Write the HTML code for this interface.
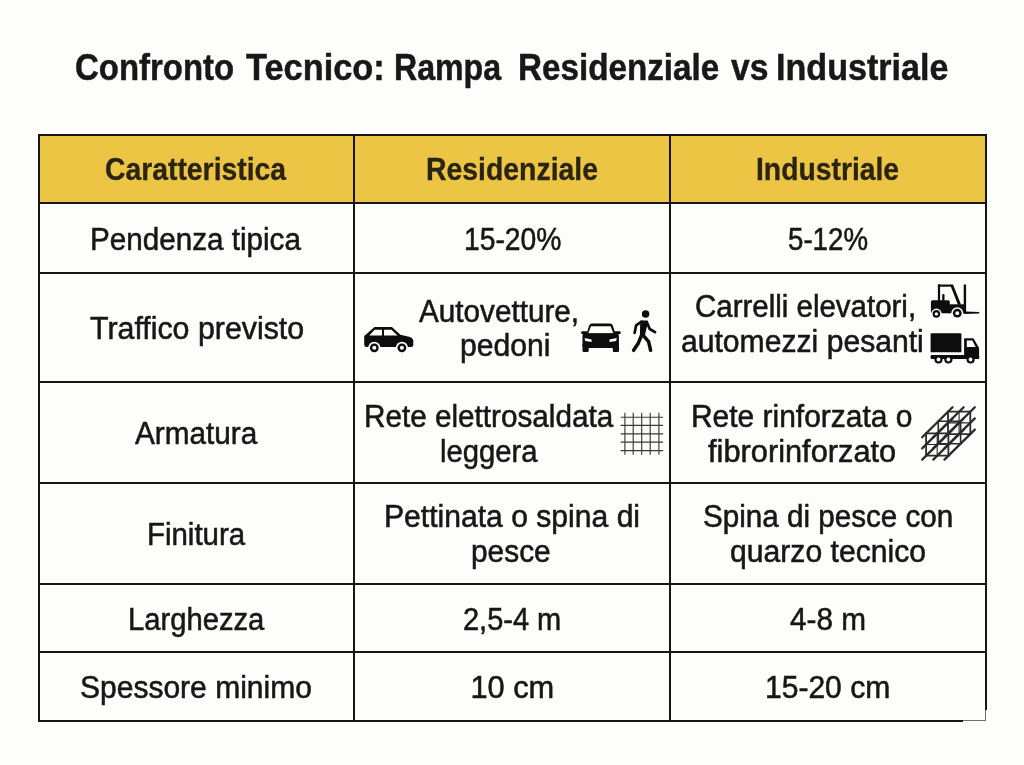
<!DOCTYPE html>
<html lang="it"><head><meta charset="utf-8"><title>Confronto Tecnico: Rampa Residenziale vs Industriale</title>
<style>
html,body{margin:0;padding:0;background:#fdfdfc;}
body{width:1024px;height:765px;overflow:hidden;position:relative;font-family:"Liberation Sans", Arial, sans-serif;color:#171717;}
h1{margin:0;position:absolute;left:0;top:0;width:1024px;height:120px;font-size:37.4px;line-height:44px;font-weight:700;color:#181818;-webkit-text-stroke:0.5px #181818;}
.t{position:absolute;white-space:nowrap;transform-origin:0 0;display:block;}
table{position:absolute;left:38px;top:134px;border-collapse:separate;border-spacing:0;border-top:2px solid #161616;border-left:2px solid #161616;table-layout:fixed;width:949px;font-size:30.8px;line-height:36px;-webkit-text-stroke:0.55px #171717;}
th,td{position:relative;padding:0;border-right:2px solid #161616;border-bottom:2px solid #161616;font-weight:400;text-align:left;vertical-align:top;overflow:visible;}
th{background:#EDC545;font-weight:700;color:#2a2413;font-size:30.5px;line-height:36px;-webkit-text-stroke:0.3px #2a2413;}
td{background:#fdfdfc;}
col.c1{width:315px}col.c2{width:316px}col.c3{width:316px}
tr.h th{height:66px}tr.r1 td{height:68px}tr.r2 td{height:107px}tr.r3 td{height:99px}tr.r4 td{height:99px}tr.r5 td{height:66px}tr.r6 td{height:67px}
.ico{position:absolute;display:block;overflow:visible;}
.fd{position:absolute;display:block;background:#fdfdfc;z-index:2}.fd.g{background:rgba(254,254,254,.38)}
</style></head>
<body>
<h1><span class="t" style="left:75.37px;top:45.00px;transform:scaleX(0.8812)">Confronto</span> <span class="t" style="left:245.60px;top:45.00px;transform:scaleX(0.9189)">Tecnico:</span> <span class="t" style="left:393.88px;top:45.00px;transform:scaleX(0.8589)">Rampa</span> <span class="t" style="left:518.22px;top:45.00px;transform:scaleX(0.8883)">Residenziale</span> <span class="t" style="left:730.60px;top:45.00px;transform:scaleX(0.9000)">vs</span> <span class="t" style="left:776.28px;top:45.00px;transform:scaleX(0.9124)">Industriale</span></h1>
<table><colgroup><col class="c1"><col class="c2"><col class="c3"></colgroup>
<thead><tr class="h"><th><span class="t" style="left:64.77px;top:15.00px;transform:scaleX(0.9287)">Caratteristica</span></th><th><span class="t" style="left:70.54px;top:15.00px;transform:scaleX(0.9308)">Residenziale</span></th><th><span class="t" style="left:85.04px;top:15.00px;transform:scaleX(0.9278)">Industriale</span></th></tr></thead>
<tbody>
<tr class="r1"><td><span class="t" style="left:50.38px;top:18.00px;transform:scaleX(0.9622)">Pendenza tipica</span></td><td><span class="t" style="left:108.67px;top:18.00px;transform:scaleX(0.9175)">15-20%</span></td><td><span class="t" style="left:117.00px;top:18.00px;transform:scaleX(0.8989)">5-12%</span></td></tr>
<tr class="r2"><td><span class="t" style="left:50.30px;top:37.00px;transform:scaleX(0.9852)">Traffico previsto</span></td><td><span class="t" style="left:64.40px;top:20.00px;transform:scaleX(0.9640)">Autovetture,</span> <span class="t" style="left:104.94px;top:54.00px;transform:scaleX(0.9787)">pedoni</span><svg class="ico" style="left:5px;top:48px" width="58" height="34" viewBox="360 322 58 34">
<path fill="#0d0d0d" d="M364.2 344.5 L364.2 336 L374.5 327 L391.9 327 L400.4 334.8 L410 336.9 Q413.3 338.2 413.3 341 L413.3 345.1 Q413.3 347 411 347 L366.3 347 Q364.2 347 364.2 344.5Z"/>
<path fill="#fdfdfc" d="M369.3 335.5 L374.6 329.7 L382 329.7 L382 335.5Z M384 329.7 L391.4 329.7 L397.6 335.5 L384 335.5Z"/>
<circle cx="374.3" cy="347.8" r="6.1" fill="#fdfdfc"/><circle cx="401.9" cy="347.8" r="6.1" fill="#fdfdfc"/>
<circle cx="374.3" cy="347.8" r="4.4" fill="#0d0d0d"/><circle cx="401.9" cy="347.8" r="4.4" fill="#0d0d0d"/>
<circle cx="374.3" cy="347.8" r="2" fill="#fdfdfc"/><circle cx="401.9" cy="347.8" r="2" fill="#fdfdfc"/></svg><svg class="ico" style="left:223px;top:46px" width="46" height="36" viewBox="578 320 46 36">
<path fill="#0d0d0d" d="M586.3 334.5 L589.2 325.6 Q589.9 323.6 592 323.6 L610 323.6 Q612.1 323.6 612.8 325.6 L615.7 334.5Z"/>
<path fill="#fdfdfc" d="M591 326.3 L610.6 326.3 L613.3 333.2 L588.3 333.2Z"/>
<rect x="581.2" y="331.3" width="6.5" height="2.8" rx="1.2" fill="#0d0d0d"/><rect x="614.2" y="331.3" width="6.5" height="2.8" rx="1.2" fill="#0d0d0d"/>
<rect x="582.5" y="333.4" width="36.4" height="14.6" rx="2.2" fill="#0d0d0d"/>
<rect x="582.5" y="343" width="6.2" height="8.9" rx="1.2" fill="#0d0d0d"/><rect x="612.8" y="343" width="6.2" height="8.9" rx="1.2" fill="#0d0d0d"/>
<path fill="#fdfdfc" d="M584.6 337.9 L591.6 339.6 L591.6 341.9 L585.3 341Z M616.8 337.9 L609.5 339.6 L609.5 341.9 L616.1 341Z"/></svg><svg class="ico" style="left:275px;top:34px" width="30" height="46" viewBox="630 308 30 46">
<circle cx="645.6" cy="314.1" r="3.75" fill="#0d0d0d"/>
<g fill="none" stroke="#0d0d0d" stroke-linecap="round" stroke-linejoin="round">
<path d="M641.6 321.8 L646.6 321.8 L643.6 335 L641.3 335Z" fill="#0d0d0d" stroke-width="2.8"/>
<path d="M641.6 321.6 L636.1 325.4 L634.6 333" stroke-width="2.7"/>
<path d="M646.9 322.2 L649.7 329 L655 332.2" stroke-width="2.7"/>
<path d="M641.5 335.5 L638.3 343.2 L633.6 350.3" stroke-width="3.5"/>
<path d="M643.2 335.3 L648.6 341.6 L650.6 350.3" stroke-width="3.5"/>
</g></svg></td><td><span class="t" style="left:23.64px;top:15.00px;transform:scaleX(0.9568)">Carrelli elevatori,</span> <span class="t" style="left:9.92px;top:50.00px;transform:scaleX(0.9780)">automezzi pesanti</span><svg class="ico" style="left:257px;top:8px" width="54" height="38" viewBox="928 282 54 38">
<g fill="#0d0d0d">
<rect x="937.9" y="284.5" width="14.4" height="2.2"/>
<rect x="937.9" y="284.5" width="2.2" height="16.5"/>
<path d="M950.2 285 L953 284.6 L961 304.6 L958 305Z"/>
<rect x="963.7" y="284.5" width="2.4" height="29.2"/>
<path d="M964.4 311.5 L979.3 312.1 L979.3 313.5 L964.4 314.1Z"/>
<rect x="930.9" y="300.2" width="18.9" height="13.1" rx="1.6"/>
<rect x="948" y="304.3" width="16.4" height="9"/>
<rect x="942.2" y="293.9" width="2.3" height="7" rx="1"/>
</g>
<circle cx="936.4" cy="313.9" r="5.3" fill="#fdfdfc"/><circle cx="957.25" cy="313.2" r="6" fill="#fdfdfc"/>
<circle cx="936.4" cy="313.9" r="3.8" fill="#0d0d0d"/><circle cx="957.25" cy="313.2" r="4.4" fill="#0d0d0d"/>
<circle cx="936.4" cy="313.9" r="1.7" fill="#fdfdfc"/><circle cx="957.25" cy="313.2" r="1.9" fill="#fdfdfc"/></svg><svg class="ico" style="left:257px;top:56px" width="54" height="36" viewBox="928 330 54 36">
<g fill="#0d0d0d">
<rect x="930.6" y="333.2" width="30.8" height="19.1" rx="0.9"/>
<rect x="930.6" y="355.1" width="48.6" height="3.8" rx="1.2"/>
<path d="M964.1 339 Q964.1 338.3 964.8 338.3 L972.8 338.3 Q973.5 338.3 973.9 339 L979.1 348 L979.1 358.8 L964.1 358.8Z"/>
</g>
<path fill="#fdfdfc" d="M966.8 340.4 L972.3 340.4 L975.7 346.9 L966.8 346.9Z"/>
<g fill="#0d0d0d"><circle cx="938.5" cy="359.5" r="4.1"/><circle cx="948.4" cy="359.5" r="4.1"/><circle cx="970.6" cy="359.5" r="4.1"/></g>
<g fill="#fdfdfc"><circle cx="938.5" cy="359.5" r="1.9"/><circle cx="948.4" cy="359.5" r="1.9"/><circle cx="970.6" cy="359.5" r="1.9"/></g></svg></td></tr>
<tr class="r3"><td><span class="t" style="left:94.80px;top:33.00px;transform:scaleX(0.9654)">Armatura</span></td><td><span class="t" style="left:8.67px;top:16.00px;transform:scaleX(0.9642)">Rete elettrosaldata</span> <span class="t" style="left:84.70px;top:51.00px;transform:scaleX(0.9495)">leggera</span><svg class="ico" style="left:263px;top:27px" width="48" height="48" viewBox="618 410 48 48"><g stroke="#3a3a3a" stroke-width="1.15" fill="none"><path d="M624.9 412.7V454.8"/><path d="M633.2 412.7V454.8"/><path d="M641.7 412.7V454.8"/><path d="M650.2 412.7V454.8"/><path d="M658.9 412.7V454.8"/><path d="M620.6 417.2H663.1"/><path d="M620.6 425.3H663.1"/><path d="M620.6 433.8H663.1"/><path d="M620.6 442.1H663.1"/><path d="M620.6 450.6H663.1"/></g></svg></td><td><span class="t" style="left:19.56px;top:16.00px;transform:scaleX(0.9722)">Rete rinforzata o</span> <span class="t" style="left:36.50px;top:51.00px;transform:scaleX(0.9995)">fibrorinforzato</span><svg class="ico" style="left:247px;top:21px" width="62" height="60" viewBox="918 404 62 60"><g stroke="#2a2a2a" fill="none" stroke-linecap="round"><g stroke-width="2.3"><path d="M922.2 437.2l30.3 -30.0"/><path d="M922.2 448.4l30.3 -30.0"/><path d="M922.2 459.6l30.3 -30.0"/><path d="M933.3 437.2l30.3 -30.0"/><path d="M933.3 448.4l30.3 -30.0"/><path d="M933.3 459.6l30.3 -30.0"/><path d="M944.5 437.2l30.3 -30.0"/><path d="M944.5 448.4l30.3 -30.0"/><path d="M944.5 459.6l30.3 -30.0"/></g><g stroke-width="1.8"><path d="M926.1 433.3V455.7"/><path d="M937.2 433.3V455.7" stroke-width="1.1"/><path d="M948.4 433.3V455.7"/><path d="M926.1 433.3H948.4"/><path d="M926.1 444.5H948.4" stroke-width="1.1"/><path d="M926.1 455.7H948.4"/><path d="M948.0 411.7V434.1"/><path d="M959.1 411.7V434.1" stroke-width="1.1"/><path d="M970.3 411.7V434.1"/><path d="M948.0 411.7H970.3"/><path d="M948.0 422.9H970.3" stroke-width="1.1"/><path d="M948.0 434.1H970.3"/><path d="M938.3 421.3H960.6V443.7H938.3Z" stroke-width="1.6"/></g></g></svg></td></tr>
<tr class="r4"><td><span class="t" style="left:106.79px;top:33.00px;transform:scaleX(0.9554)">Finitura</span></td><td><span class="t" style="left:28.94px;top:15.00px;transform:scaleX(0.9775)">Pettinata o spina di</span> <span class="t" style="left:116.46px;top:50.00px;transform:scaleX(0.9696)">pesce</span></td><td><span class="t" style="left:31.79px;top:15.00px;transform:scaleX(0.9618)">Spina di pesce con</span> <span class="t" style="left:58.92px;top:50.00px;transform:scaleX(0.9788)">quarzo tecnico</span></td></tr>
<tr class="r5"><td><span class="t" style="left:87.80px;top:17.00px;transform:scaleX(0.9479)">Larghezza</span></td><td><span class="t" style="left:108.06px;top:17.00px;transform:scaleX(0.9412)">2,5-4 m</span></td><td><span class="t" style="left:119.10px;top:17.00px;transform:scaleX(0.9662)">4-8 m</span></td></tr>
<tr class="r6"><td><span class="t" style="left:39.73px;top:17.00px;transform:scaleX(0.9746)">Spessore minimo</span></td><td><span class="t" style="left:115.40px;top:17.00px;transform:scaleX(1.0000)">10 cm</span></td><td><span class="t" style="left:94.35px;top:17.00px;transform:scaleX(0.9752)">15-20 cm</span><i class="fd" style="left:292px;top:68px;width:24px;height:1px"></i><i class="fd" style="left:315px;top:57px;width:1px;height:12px"></i><i class="fd g" style="left:292px;top:67px;width:23px;height:1px"></i><i class="fd g" style="left:314px;top:57px;width:1px;height:10px"></i></td></tr>
</tbody>
</table>
</body></html>
